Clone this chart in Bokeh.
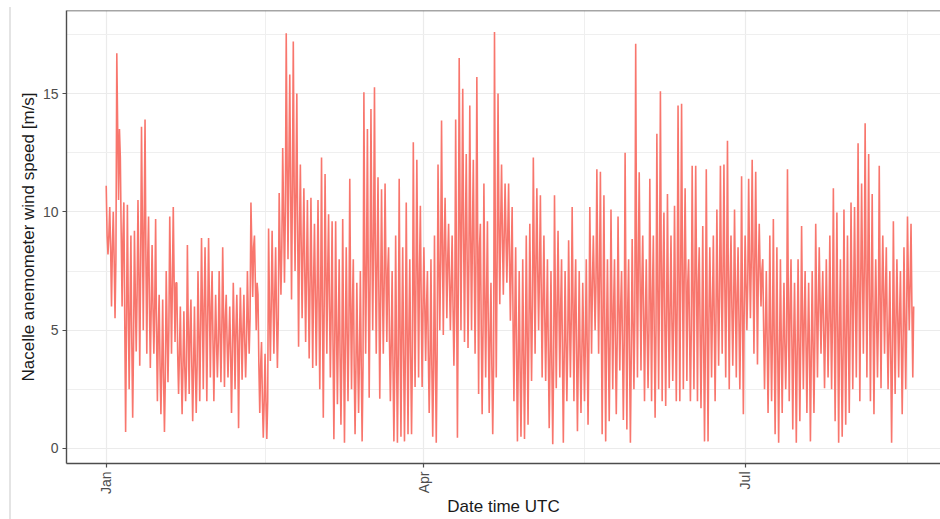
import numpy as np
import pandas as pd
from bokeh.plotting import figure
from bokeh.models import (Range1d, FixedTicker, DatetimeTickFormatter, Span,
                          ColumnDataSource, InlineStyleSheet)
from bokeh.embed import file_html
from bokeh.resources import INLINE

# ---------------- data ----------------
start_date = "2019-01-01"
# per day from Jan 1: daily maximum, typical level (dense core), daily minimum [m/s]
daily_high = [
    11.1, 10.2, 10.0, 16.7, 12.3, 10.4, 10.3, 9.0, 9.2, 10.5,
    13.6, 13.9, 9.8, 8.6, 9.7, 6.5, 6.3, 7.5, 9.8, 10.2,
    7.0, 6.0, 5.8, 8.6, 6.3, 6.0, 7.5, 8.9, 8.5, 8.9,
    7.5, 6.5, 7.5, 8.5, 6.5, 6.0, 7.0, 6.5, 6.8, 6.5,
    7.5, 10.4, 9.0, 6.5, 4.5, 4.0, 9.3, 9.2, 8.5, 10.8,
    12.7, 17.55, 15.8, 17.2, 15.0, 12.0, 11.0, 10.5, 10.6, 9.5,
    10.5, 12.3, 11.6, 9.9, 9.6, 9.6, 8.0, 9.7, 8.5, 11.4,
    8.0, 7.0, 7.5, 15.05, 13.5, 14.35, 15.27, 11.46, 10.96, 11.2,
    8.5, 7.5, 9.0, 11.4, 8.5, 10.4, 8.0, 12.94, 12.2, 10.26,
    8.5, 7.5, 8.0, 9.0, 12.0, 13.86, 10.6, 9.5, 9.0, 13.9,
    16.5, 15.2, 12.45, 14.5, 12.2, 15.7, 9.5, 11.2, 9.6, 7.0,
    17.6, 15.0, 12.0, 11.2, 11.2, 10.2, 8.5, 7.5, 8.0, 9.0,
    9.5, 12.3, 11.0, 10.7, 9.0, 8.0, 7.5, 10.7, 9.2, 8.0,
    7.5, 8.8, 10.2, 8.0, 7.5, 7.0, 8.0, 10.2, 9.0, 11.8,
    11.7, 10.7, 8.0, 10.1, 8.0, 9.8, 7.5, 12.5, 8.0, 8.85,
    17.1, 11.67, 9.0, 8.0, 11.4, 9.0, 13.3, 15.1, 9.97, 10.75,
    9.0, 10.26, 14.5, 14.57, 11.0, 8.0, 11.95, 11.95, 8.5, 9.4,
    11.8, 8.5, 9.0, 10.1, 11.95, 12.0, 13.0, 9.0, 10.1, 8.5,
    11.5, 9.0, 11.4, 12.2, 11.7, 9.5, 8.0, 7.5, 9.0, 9.7,
    8.5, 8.0, 7.0, 11.8, 8.0, 7.0, 8.0, 9.4, 7.5, 7.0,
    7.5, 9.5, 8.5, 7.5, 8.0, 9.0, 11.0, 9.97, 8.0, 10.1,
    9.0, 10.4, 10.2, 12.9, 11.2, 13.74, 12.45, 10.75, 8.0, 11.95,
    9.0, 8.5, 7.5, 9.6, 8.0, 7.5, 8.5, 9.8, 9.5,
]
daily_level = [
    9.0, 8.5, 8.0, 13.5, 9.0, 5.5, 6.0, 4.5, 6.5, 7.5,
    9.5, 8.0, 6.0, 6.0, 5.0, 3.5, 3.0, 5.0, 7.0, 7.0,
    4.0, 3.5, 3.5, 5.0, 3.5, 3.5, 5.0, 6.0, 5.5, 6.0,
    4.5, 4.5, 5.0, 5.5, 4.5, 4.0, 5.0, 4.5, 5.0, 4.5,
    5.5, 8.5, 7.0, 3.5, 2.0, 2.0, 6.0, 6.5, 5.5, 8.5,
    10.0, 12.0, 11.0, 11.0, 9.0, 8.5, 7.5, 7.0, 7.0, 6.5,
    6.5, 6.0, 7.5, 6.0, 4.5, 5.0, 4.0, 4.5, 5.0, 6.0,
    3.5, 4.0, 3.5, 8.0, 7.0, 9.0, 8.0, 6.5, 7.0, 7.5,
    4.5, 3.5, 4.0, 5.0, 4.0, 5.0, 4.0, 7.0, 7.5, 6.0,
    6.0, 4.0, 3.5, 4.0, 8.0, 8.5, 8.0, 7.0, 6.0, 7.0,
    10.0, 9.0, 8.0, 9.0, 8.0, 8.5, 5.0, 6.5, 5.0, 3.5,
    8.0, 9.5, 9.0, 9.0, 8.0, 5.5, 4.0, 3.5, 4.0, 5.0,
    6.0, 8.0, 7.5, 6.5, 5.5, 4.0, 3.5, 6.0, 6.0, 4.0,
    4.5, 5.5, 6.0, 4.0, 4.0, 4.5, 4.5, 7.0, 7.0, 7.5,
    6.0, 5.0, 4.5, 6.0, 4.5, 6.0, 4.5, 6.0, 4.0, 5.5,
    8.0, 7.0, 5.5, 5.0, 6.5, 5.0, 7.0, 7.5, 5.5, 6.0,
    5.5, 6.0, 7.5, 7.5, 7.0, 5.0, 7.0, 7.0, 5.0, 4.5,
    5.5, 6.0, 5.5, 6.5, 7.5, 7.0, 7.0, 6.0, 6.5, 5.5,
    6.0, 7.0, 8.0, 8.0, 7.5, 7.5, 5.0, 4.5, 5.0, 4.5,
    4.0, 4.5, 4.5, 6.0, 4.5, 4.0, 4.5, 5.5, 4.5, 4.0,
    4.5, 6.0, 6.0, 5.0, 5.5, 5.5, 5.5, 5.0, 4.0, 5.0,
    5.0, 6.5, 6.5, 7.0, 7.5, 7.5, 6.5, 5.5, 5.5, 6.5,
    6.5, 5.0, 4.0, 5.5, 5.5, 4.5, 5.5, 7.0, 6.0,
]
daily_low = [
    8.2, 6.0, 5.5, 10.5, 6.0, 0.7, 2.5, 1.3, 4.1, 3.5,
    5.0, 4.0, 3.4, 4.0, 2.0, 1.45, 0.7, 2.8, 4.0, 4.5,
    2.3, 1.45, 2.0, 2.3, 1.15, 1.5, 2.0, 2.5, 2.0, 3.0,
    2.0, 3.0, 2.8, 2.6, 3.0, 1.5, 2.5, 0.86, 2.9, 3.0,
    4.0, 6.4, 5.0, 1.5, 0.45, 0.4, 3.7, 4.0, 3.4, 6.5,
    7.0, 8.0, 6.3, 7.5, 4.3, 5.5, 4.5, 3.8, 3.4, 3.5,
    2.5, 1.3, 4.0, 3.0, 0.39, 1.87, 1.0, 0.24, 2.0, 2.5,
    0.6, 1.5, 0.3, 4.0, 2.14, 5.0, 4.0, 2.1, 4.0, 4.5,
    2.0, 0.3, 0.24, 0.5, 0.3, 0.6, 0.6, 2.6, 3.0, 2.6,
    3.7, 1.5, 0.5, 0.24, 5.0, 4.8, 5.5, 5.0, 3.5, 0.45,
    5.0, 4.5, 4.25, 5.0, 4.0, 2.3, 1.45, 3.0, 1.5, 0.6,
    3.0, 6.1, 6.5, 7.0, 5.4, 2.0, 0.3, 0.5, 0.4, 1.0,
    2.85, 4.0, 5.0, 3.0, 2.85, 0.86, 0.18, 2.55, 3.0, 0.24,
    2.0, 3.0, 2.0, 0.73, 1.5, 2.0, 1.0, 4.0, 5.0, 4.0,
    0.6, 0.3, 1.15, 2.5, 1.45, 3.3, 1.2, 0.8, 0.24, 2.5,
    3.0, 3.3, 2.0, 2.55, 2.0, 1.3, 2.5, 2.0, 1.8, 2.55,
    2.85, 2.0, 2.0, 2.5, 2.85, 2.0, 2.5, 2.0, 1.7, 0.3,
    0.3, 3.0, 2.0, 3.5, 4.0, 3.0, 2.5, 3.5, 3.0, 2.5,
    1.45, 5.0, 5.5, 4.0, 3.55, 6.0, 2.5, 1.5, 2.0, 0.6,
    0.24, 1.5, 2.5, 2.0, 0.8, 0.24, 1.15, 2.5, 1.5, 0.3,
    1.5, 3.0, 4.0, 2.55, 3.0, 2.5, 1.15, 0.24, 0.5, 1.0,
    1.5, 2.5, 3.0, 2.0, 4.0, 3.0, 2.0, 1.45, 3.0, 2.55,
    4.0, 2.5, 0.24, 2.3, 3.0, 1.45, 2.5, 5.0, 3.0,
]
y_ticks = [0, 5, 10, 15]
y_minor_ticks = [2.5, 7.5, 12.5, 17.5]
x_tick_dates = ["2019-01-01", "2019-04-01", "2019-07-01"]
x_tick_labels = ["Jan", "Apr", "Jul"]
x_minor_dates = ["2019-02-15", "2019-05-16 12:00", "2019-08-16"]

# ---------------- build series: high, level, low, level within each day ----
n_days = min(len(daily_high), len(daily_level), len(daily_low))
t0 = pd.Timestamp(start_date)
times = pd.date_range(t0, periods=4 * n_days, freq="6h")
speed = np.empty(4 * n_days)
speed[0::4] = daily_high[:n_days]
speed[1::4] = daily_level[:n_days]
speed[2::4] = daily_low[:n_days]
speed[3::4] = daily_level[:n_days]
src = ColumnDataSource(dict(t=times, v=speed))


def ms(s):
    return pd.Timestamp(s).value / 1e6


day_ms = 86400000.0
x_start = ms(start_date) - 11.25 * day_ms
x_end = ms(start_date) + 236.35 * day_ms
y_lo, y_hi = -0.635, 18.51

FONT = "Liberation Sans"

p = figure(width=940, height=519, x_axis_type="datetime",
           output_backend="svg", toolbar_location=None,
           x_range=Range1d(x_start, x_end), y_range=Range1d(y_lo, y_hi),
           min_border_left=66, min_border_right=0, min_border_top=10,
           min_border_bottom=0)
p.background_fill_color = "white"
p.border_fill_color = "white"
p.outline_line_color = None
p.stylesheets = [InlineStyleSheet(css=(
    ":host::before { content: ''; position: absolute; left: 9px; top: 7px; "
    "bottom: 0; width: 2px; background: #E4E4E4; z-index: 5; }"))]

p.line("t", "v", source=src, line_color="#F8766D", line_width=1.6,
       line_join="bevel")

# tickers / grids
xt = FixedTicker(ticks=[ms(d) for d in x_tick_dates],
                 minor_ticks=[ms(d) for d in x_minor_dates])
yt = FixedTicker(ticks=y_ticks, minor_ticks=y_minor_ticks)
p.xaxis.ticker = xt
p.yaxis.ticker = yt
p.xgrid.ticker = xt
p.ygrid.ticker = yt
for g in (p.xgrid, p.ygrid):
    g.grid_line_color = "#EBEBEB"
    g.grid_line_width = 1.2
    g.minor_grid_line_color = "#EFEFEF"
    g.minor_grid_line_width = 1.0

p.xaxis.formatter = DatetimeTickFormatter(
    years="%b", months="%b", days="%b", hours="%b", hourmin="%b",
    minutes="%b", minsec="%b", seconds="%b", milliseconds="%b",
    microseconds="%b")
p.xaxis.major_label_orientation = np.pi / 2

for ax in (p.xaxis, p.yaxis):
    ax.axis_line_color = "#4D4D4D"
    ax.axis_line_width = 1.4
    ax.major_tick_line_color = "#4D4D4D"
    ax.major_tick_line_width = 1.2
    ax.major_tick_in = 0
    ax.major_tick_out = 4
    ax.minor_tick_line_color = None
    ax.major_label_text_font = FONT
    ax.major_label_text_font_size = "14px"
    ax.major_label_text_color = "#4D4D4D"
    ax.axis_label_text_font = FONT
    ax.axis_label_text_font_size = "17px"
    ax.axis_label_text_font_style = "normal"
    ax.axis_label_text_color = "#1A1A1A"
    ax.major_label_standoff = 4

p.xaxis.axis_label_standoff = 0
p.yaxis.axis_label_standoff = 2
p.xaxis.axis_label = "Date time UTC"
p.yaxis.axis_label = "Nacelle anemometer wind speed [m/s]"

# top panel border
p.add_layout(Span(location=y_hi, dimension="width", line_color="#4D4D4D",
                  line_width=1.4))

open("out.html", "w").write(file_html(p, INLINE))
